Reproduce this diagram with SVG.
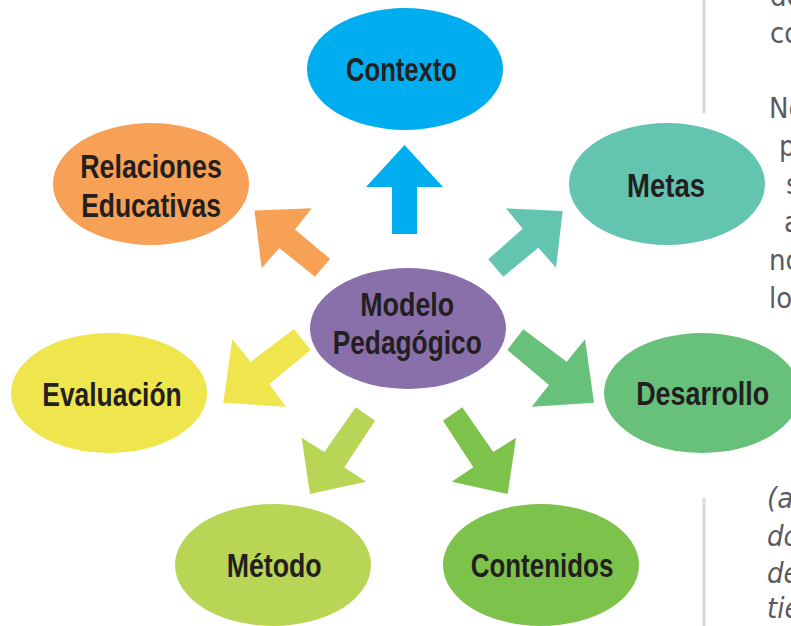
<svg xmlns="http://www.w3.org/2000/svg" width="791" height="626" viewBox="0 0 791 626">
<style>
.lbl{font-family:"Liberation Sans",Arial,sans-serif;font-weight:bold;font-size:34px;fill:#231f20;text-anchor:middle}
.body{font-family:"DejaVu Sans Condensed","DejaVu Sans",sans-serif;font-size:29px;fill:#5b5b5d}
.it{font-style:italic}
.rule{stroke:#d9d9d9;stroke-width:3;fill:none}
.c-ctx{fill:#00aeef}.c-met{fill:#63c5b0}.c-des{fill:#67c17a}.c-con{fill:#7dc24b}
.c-mto{fill:#b8d555}.c-eva{fill:#efe54d}.c-rel{fill:#f6a155}.c-mod{fill:#8970ab}
</style>
<rect width="791" height="626" fill="#ffffff"/>
<g id="background-text">
<line class="rule" x1="704" y1="0" x2="704" y2="113"/>
<line class="rule" x1="704" y1="498" x2="704" y2="626"/>
<text class="body" x="770" y="6">de</text>
<text class="body" x="770" y="43">co</text>
<text class="body" x="769" y="118">Ne</text>
<text class="body" x="779" y="156">p</text>
<text class="body" x="786" y="194">s</text>
<text class="body" x="784" y="232">a</text>
<text class="body" x="769" y="270">no</text>
<text class="body" x="769" y="308">lo</text>
<text class="body it" x="767" y="508">(a</text>
<text class="body it" x="767" y="546">do</text>
<text class="body it" x="767" y="583">de</text>
<text class="body it" x="767" y="618">tie</text>
</g>
<g id="connectors">
<polygon class="c-ctx" points="392,234 392,187 366,187 404.5,145 443,187 417,187 417,234"/>
<polygon class="c-rel" points="330,258.7 295,229.5 311.7,208.3 254.5,210.5 261.7,268.3 279.3,248 315,276.7"/>
<polygon class="c-met" points="503.3,276.7 538.3,247.7 556,267.7 562.7,211 506,208.3 522.7,228.7 488.3,259.3"/>
<polygon class="c-des" points="523.3,329.3 566.7,361.7 585,339.3 594,402.7 531.7,406.7 549,385 507.3,350"/>
<polygon class="c-eva" points="294,329 250.7,361.7 232.3,339.3 223.3,402.7 286,406.7 269.3,384 310.7,350"/>
<polygon class="c-mto" points="355.7,407.3 324.3,452 301.7,437.7 310,494 366,481.7 344.3,467.3 375,420.7"/>
<polygon class="c-con" points="462.3,407.3 493.3,452 516,437.7 507.7,494 451.7,481.7 473.3,467.3 443,420.7"/>
</g>
<g id="node-modelo">
<ellipse class="c-mod" cx="408" cy="328.5" rx="98" ry="60.5"/>
<text class="lbl" x="407.2" y="315.7" textLength="94" lengthAdjust="spacingAndGlyphs">Modelo</text>
<text class="lbl" x="407.2" y="354" textLength="149" lengthAdjust="spacingAndGlyphs">Pedagógico</text>
</g>
<g id="node-contexto">
<ellipse class="c-ctx" cx="405" cy="69" rx="98" ry="61"/>
<text class="lbl" x="401.5" y="80.7" textLength="111" lengthAdjust="spacingAndGlyphs">Contexto</text>
</g>
<g id="node-metas">
<ellipse class="c-met" cx="667" cy="184" rx="98" ry="61"/>
<text class="lbl" x="666" y="197.3" textLength="78" lengthAdjust="spacingAndGlyphs">Metas</text>
</g>
<g id="node-desarrollo">
<ellipse class="c-des" cx="702" cy="393" rx="98" ry="60"/>
<text class="lbl" x="702.7" y="405" textLength="133" lengthAdjust="spacingAndGlyphs">Desarrollo</text>
</g>
<g id="node-contenidos">
<ellipse class="c-con" cx="541" cy="565" rx="98" ry="61"/>
<text class="lbl" x="542" y="577" textLength="142.7" lengthAdjust="spacingAndGlyphs">Contenidos</text>
</g>
<g id="node-metodo">
<ellipse class="c-mto" cx="273" cy="565" rx="98" ry="61"/>
<text class="lbl" x="274.2" y="577.3" textLength="95" lengthAdjust="spacingAndGlyphs">Método</text>
</g>
<g id="node-evaluacion">
<ellipse class="c-eva" cx="109" cy="393" rx="98" ry="60"/>
<text class="lbl" x="112" y="406" textLength="139.4" lengthAdjust="spacingAndGlyphs">Evaluación</text>
</g>
<g id="node-relaciones">
<ellipse class="c-rel" cx="151" cy="184" rx="98" ry="61"/>
<text class="lbl" x="151" y="178.3" textLength="141.7" lengthAdjust="spacingAndGlyphs">Relaciones</text>
<text class="lbl" x="151" y="217.3" textLength="139.7" lengthAdjust="spacingAndGlyphs">Educativas</text>
</g>
</svg>
